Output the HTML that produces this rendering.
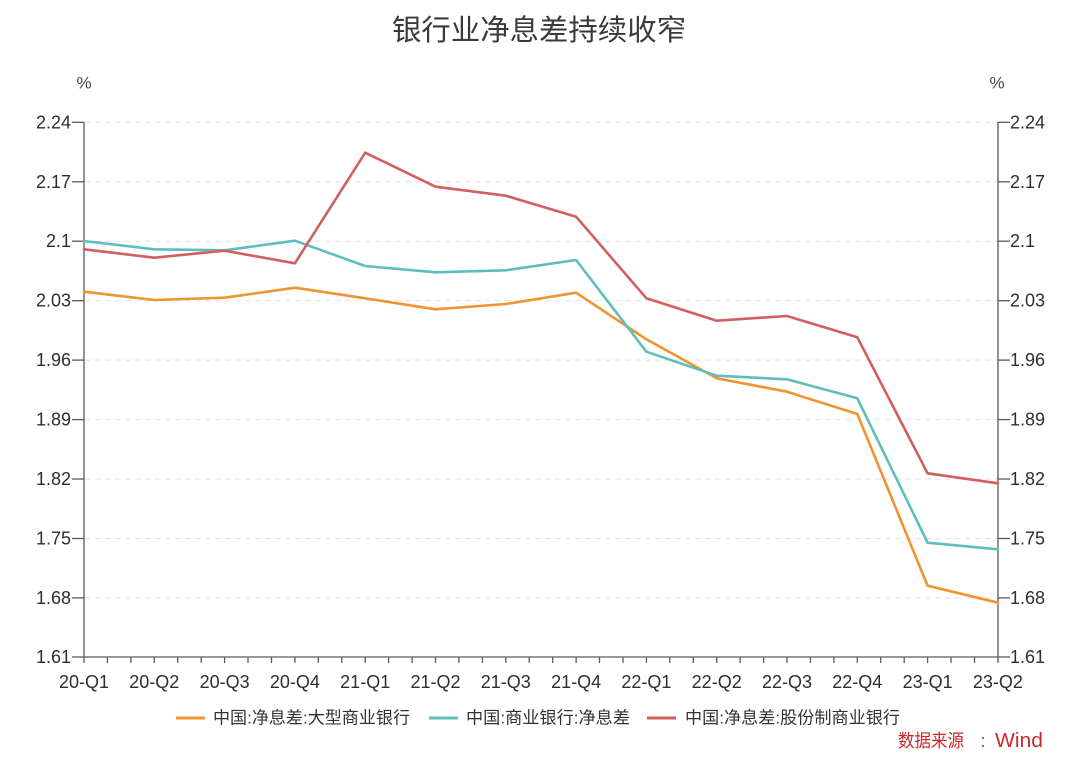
<!DOCTYPE html>
<html>
<head>
<meta charset="utf-8">
<style>
  html, body { margin:0; padding:0; background:#ffffff; }
  svg { display:block; }
  text { font-family: "Liberation Sans", "Noto Sans CJK SC", sans-serif; }
</style>
</head>
<body>
<svg width="1080" height="764" viewBox="0 0 1080 764" xmlns="http://www.w3.org/2000/svg">
  <rect width="1080" height="764" fill="#ffffff"/>

  <!-- Title -->
  <text x="392" y="31" font-size="29" fill="#3a3a3a" dominant-baseline="central" textLength="294" lengthAdjust="spacingAndGlyphs">银行业净息差持续收窄</text>

  <!-- % units -->
  <text x="84" y="83" font-size="17" fill="#444" text-anchor="middle" dominant-baseline="central">%</text>
  <text x="997" y="83" font-size="17" fill="#444" text-anchor="middle" dominant-baseline="central">%</text>

  <!-- Gridlines -->
  <g stroke="#e2e2e2" stroke-width="1" stroke-dasharray="6,4">
    <line x1="85" y1="122.3" x2="997" y2="122.3"/>
    <line x1="85" y1="181.8" x2="997" y2="181.8"/>
    <line x1="85" y1="241.2" x2="997" y2="241.2"/>
    <line x1="85" y1="300.7" x2="997" y2="300.7"/>
    <line x1="85" y1="360.1" x2="997" y2="360.1"/>
    <line x1="85" y1="419.6" x2="997" y2="419.6"/>
    <line x1="85" y1="479.0" x2="997" y2="479.0"/>
    <line x1="85" y1="538.5" x2="997" y2="538.5"/>
    <line x1="85" y1="597.9" x2="997" y2="597.9"/>
  </g>

  <!-- Axes -->
  <g stroke="#5a5a5a" stroke-width="1.3" fill="none">
    <line x1="84" y1="122" x2="84" y2="663"/>
    <line x1="998" y1="122" x2="998" y2="663"/>
    <line x1="84" y1="657" x2="998" y2="657"/>
    <line x1="72" y1="122.3" x2="84" y2="122.3"/>
    <line x1="72" y1="181.8" x2="84" y2="181.8"/>
    <line x1="72" y1="241.2" x2="84" y2="241.2"/>
    <line x1="72" y1="300.7" x2="84" y2="300.7"/>
    <line x1="72" y1="360.1" x2="84" y2="360.1"/>
    <line x1="72" y1="419.6" x2="84" y2="419.6"/>
    <line x1="72" y1="479.0" x2="84" y2="479.0"/>
    <line x1="72" y1="538.5" x2="84" y2="538.5"/>
    <line x1="72" y1="597.9" x2="84" y2="597.9"/>
    <line x1="72" y1="657.0" x2="84" y2="657.0"/>
    <line x1="998" y1="122.3" x2="1010" y2="122.3"/>
    <line x1="998" y1="181.8" x2="1010" y2="181.8"/>
    <line x1="998" y1="241.2" x2="1010" y2="241.2"/>
    <line x1="998" y1="300.7" x2="1010" y2="300.7"/>
    <line x1="998" y1="360.1" x2="1010" y2="360.1"/>
    <line x1="998" y1="419.6" x2="1010" y2="419.6"/>
    <line x1="998" y1="479.0" x2="1010" y2="479.0"/>
    <line x1="998" y1="538.5" x2="1010" y2="538.5"/>
    <line x1="998" y1="597.9" x2="1010" y2="597.9"/>
    <line x1="998" y1="657.0" x2="1010" y2="657.0"/>
  </g>

  <!-- bottom minor ticks -->
  <g stroke="#5a5a5a" stroke-width="1.3">
    <line x1="107.4" y1="657" x2="107.4" y2="663"/>
    <line x1="130.9" y1="657" x2="130.9" y2="663"/>
    <line x1="154.3" y1="657" x2="154.3" y2="663"/>
    <line x1="177.7" y1="657" x2="177.7" y2="663"/>
    <line x1="201.2" y1="657" x2="201.2" y2="663"/>
    <line x1="224.6" y1="657" x2="224.6" y2="663"/>
    <line x1="248.0" y1="657" x2="248.0" y2="663"/>
    <line x1="271.5" y1="657" x2="271.5" y2="663"/>
    <line x1="294.9" y1="657" x2="294.9" y2="663"/>
    <line x1="318.3" y1="657" x2="318.3" y2="663"/>
    <line x1="341.8" y1="657" x2="341.8" y2="663"/>
    <line x1="365.2" y1="657" x2="365.2" y2="663"/>
    <line x1="388.6" y1="657" x2="388.6" y2="663"/>
    <line x1="412.1" y1="657" x2="412.1" y2="663"/>
    <line x1="435.5" y1="657" x2="435.5" y2="663"/>
    <line x1="458.9" y1="657" x2="458.9" y2="663"/>
    <line x1="482.4" y1="657" x2="482.4" y2="663"/>
    <line x1="505.8" y1="657" x2="505.8" y2="663"/>
    <line x1="529.2" y1="657" x2="529.2" y2="663"/>
    <line x1="552.7" y1="657" x2="552.7" y2="663"/>
    <line x1="576.1" y1="657" x2="576.1" y2="663"/>
    <line x1="599.5" y1="657" x2="599.5" y2="663"/>
    <line x1="623.0" y1="657" x2="623.0" y2="663"/>
    <line x1="646.4" y1="657" x2="646.4" y2="663"/>
    <line x1="669.8" y1="657" x2="669.8" y2="663"/>
    <line x1="693.3" y1="657" x2="693.3" y2="663"/>
    <line x1="716.7" y1="657" x2="716.7" y2="663"/>
    <line x1="740.1" y1="657" x2="740.1" y2="663"/>
    <line x1="763.6" y1="657" x2="763.6" y2="663"/>
    <line x1="787.0" y1="657" x2="787.0" y2="663"/>
    <line x1="810.4" y1="657" x2="810.4" y2="663"/>
    <line x1="833.9" y1="657" x2="833.9" y2="663"/>
    <line x1="857.3" y1="657" x2="857.3" y2="663"/>
    <line x1="880.7" y1="657" x2="880.7" y2="663"/>
    <line x1="904.2" y1="657" x2="904.2" y2="663"/>
    <line x1="927.6" y1="657" x2="927.6" y2="663"/>
    <line x1="951.0" y1="657" x2="951.0" y2="663"/>
    <line x1="974.5" y1="657" x2="974.5" y2="663"/>
  </g>

  <!-- Left Y labels -->
  <g font-size="18" fill="#2e2e2e" text-anchor="end" dominant-baseline="central">
    <text x="71" y="122.3">2.24</text>
    <text x="71" y="181.8">2.17</text>
    <text x="71" y="241.2">2.1</text>
    <text x="71" y="300.7">2.03</text>
    <text x="71" y="360.1">1.96</text>
    <text x="71" y="419.6">1.89</text>
    <text x="71" y="479.0">1.82</text>
    <text x="71" y="538.5">1.75</text>
    <text x="71" y="597.9">1.68</text>
    <text x="71" y="657.0">1.61</text>
  </g>
  <!-- Right Y labels -->
  <g font-size="18" fill="#2e2e2e" text-anchor="start" dominant-baseline="central">
    <text x="1010" y="122.3">2.24</text>
    <text x="1010" y="181.8">2.17</text>
    <text x="1010" y="241.2">2.1</text>
    <text x="1010" y="300.7">2.03</text>
    <text x="1010" y="360.1">1.96</text>
    <text x="1010" y="419.6">1.89</text>
    <text x="1010" y="479.0">1.82</text>
    <text x="1010" y="538.5">1.75</text>
    <text x="1010" y="597.9">1.68</text>
    <text x="1010" y="657.0">1.61</text>
  </g>

  <!-- X labels -->
  <g font-size="18" fill="#2e2e2e" text-anchor="middle">
    <text x="84" y="688">20-Q1</text>
    <text x="154.3" y="688">20-Q2</text>
    <text x="224.6" y="688">20-Q3</text>
    <text x="294.9" y="688">20-Q4</text>
    <text x="365.2" y="688">21-Q1</text>
    <text x="435.5" y="688">21-Q2</text>
    <text x="505.8" y="688">21-Q3</text>
    <text x="576.1" y="688">21-Q4</text>
    <text x="646.4" y="688">22-Q1</text>
    <text x="716.7" y="688">22-Q2</text>
    <text x="787.0" y="688">22-Q3</text>
    <text x="857.3" y="688">22-Q4</text>
    <text x="927.6" y="688">23-Q1</text>
    <text x="997.9" y="688">23-Q2</text>
  </g>

  <!-- Series -->
  <g fill="none" stroke-width="2.6" stroke-linejoin="round" stroke-linecap="round">
    <polyline stroke="#ef9431" points="84,291.7 154.3,300 224.6,297.7 294.9,287.7 365.2,298.3 435.5,309.3 505.8,304 576.1,292.7 646.4,339.3 716.7,378.3 787,391.7 857.3,414 927.6,585.7 997.9,602.7"/>
    <polyline stroke="#5ebebe" points="84,241 154.3,249.3 224.6,250.3 294.9,240.7 365.2,266 435.5,272.3 505.8,270.3 576.1,260 646.4,351.7 716.7,375.7 787,379.3 857.3,398.3 927.6,542.7 997.9,549.3"/>
    <polyline stroke="#d15f5f" points="84,249.3 154.3,257.7 224.6,250.7 294.9,263.3 365.2,152.7 435.5,186.7 505.8,195.7 576.1,216.7 646.4,298.3 716.7,320.7 787,316 857.3,337.3 927.6,473.3 997.9,483.3"/>
  </g>

  <!-- Legend -->
  <g stroke-width="3">
    <line x1="176" y1="718" x2="205" y2="718" stroke="#ef9431"/>
    <line x1="429" y1="718" x2="458" y2="718" stroke="#5ebebe"/>
    <line x1="647" y1="718" x2="676" y2="718" stroke="#d15f5f"/>
  </g>
  <g font-size="17" fill="#333" dominant-baseline="central">
    <text x="213" y="718" textLength="197" lengthAdjust="spacingAndGlyphs">中国:净息差:大型商业银行</text>
    <text x="466" y="718" textLength="164" lengthAdjust="spacingAndGlyphs">中国:商业银行:净息差</text>
    <text x="685" y="718" textLength="215" lengthAdjust="spacingAndGlyphs">中国:净息差:股份制商业银行</text>
  </g>

  <!-- Source -->
  <g fill="#c8282e" dominant-baseline="central">
    <text x="898" y="741" font-size="18" textLength="66" lengthAdjust="spacingAndGlyphs">数据来源</text>
    <text x="983" y="741" font-size="18" text-anchor="middle">:</text>
    <text x="995" y="741" font-size="20" textLength="48" lengthAdjust="spacingAndGlyphs">Wind</text>
  </g>
</svg>
</body>
</html>
